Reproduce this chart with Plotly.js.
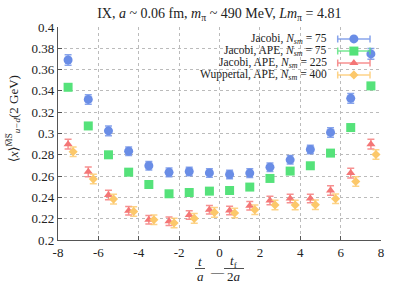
<!DOCTYPE html>
<html><head><meta charset="utf-8">
<script src="https://cdn.plot.ly/plotly-3.0.1.min.js"></script>
<style>html,body{margin:0;padding:0;background:#fff}#c{width:398px;height:283px}</style>
</head><body><div id="c"></div>
<script>
const xBase = [-7.5,-6.5,-5.5,-4.5,-3.5,-2.5,-1.5,-0.5,0.5,1.5,2.5,3.5,4.5,5.5,6.5,7.5];
const xShift = [-7.25,-6.25,-5.25,-4.25,-3.25,-2.25,-1.25,-0.25,0.75,1.75,2.75,3.75,4.75,5.75,6.75,7.75];

const jacobi75 = [0.369,0.332,0.3025,0.2834,0.2697,0.2635,0.2643,0.263,0.2615,0.2628,0.2684,0.2753,0.285,0.301,0.333,0.3747];
const jacobi75Err = [0.005,0.0045,0.0045,0.004,0.004,0.004,0.004,0.004,0.004,0.004,0.004,0.004,0.004,0.0045,0.0045,0.005];

const ape75 = [0.3434,0.3071,0.28,0.2637,0.2521,0.2434,0.2446,0.2459,0.2465,0.2497,0.2578,0.2647,0.2697,0.2816,0.3056,0.3447];
const ape75Err = [0.0025,0.0025,0.002,0.002,0.002,0.002,0.002,0.002,0.002,0.002,0.002,0.002,0.002,0.002,0.0025,0.0025];

const ape225 = [0.29,0.264,0.2422,0.2275,0.219,0.2175,0.2234,0.2284,0.2278,0.2322,0.2371,0.239,0.239,0.2465,0.2628,0.29];
const ape225Err = [0.0045,0.0045,0.0045,0.004,0.004,0.004,0.004,0.004,0.004,0.004,0.004,0.004,0.004,0.0045,0.0045,0.0045];

const wup400 = [0.2828,0.2572,0.2384,0.2268,0.219,0.216,0.2203,0.2259,0.2253,0.2284,0.2328,0.2328,0.2331,0.2387,0.255,0.2803];
const wup400Err = [0.0045,0.0045,0.0045,0.0045,0.0045,0.0045,0.0045,0.0045,0.0045,0.0045,0.0045,0.0045,0.0045,0.0045,0.0045,0.0045];

const seriesNames = [
  "Jacobi, <i>N</i><sub><i>sm</i></sub> = 75",
  "Jacobi, APE, <i>N</i><sub><i>sm</i></sub> = 75",
  "Jacobi, APE, <i>N</i><sub><i>sm</i></sub> = 225",
  "Wuppertal, APE, <i>N</i><sub><i>sm</i></sub> = 400"
];
const colors = ["#6a8de6","#55e27a","#f47676","#fcc86a"];
const errColors = ["rgba(106,141,230,0.8)","rgba(85,226,122,0.8)","rgba(244,118,118,0.8)","rgba(252,200,106,0.8)"];
const symbols = ["circle","square","triangle-up","diamond"];
const sizes = [9,9,8,7];

const xTicks = [-8,-6,-4,-2,0,2,4,6,8];
const yTicks = [0.2,0.22,0.24,0.26,0.28,0.3,0.32,0.34,0.36,0.38,0.4];
const yTickText = ["0.2","0.22","0.24","0.26","0.28","0.3","0.32","0.34","0.36","0.38","0.4"];

const xs = [xBase,xBase,xBase,xShift];
const ys = [jacobi75,ape75,ape225,wup400];
const es = [jacobi75Err,ape75Err,ape225Err,wup400Err];

const font = "Liberation Serif, DejaVu Serif, serif";
const traces = [];
for (let i=0;i<4;i++){
  traces.push({
    type:"scatter", mode:"markers", x:xs[i], y:ys[i],
    error_y:{type:"data", array:es[i], visible:true, color:errColors[i], thickness:1.5, width:3.5},
    marker:{symbol:symbols[i], size:sizes[i], color:colors[i]},
    showlegend:false, hoverinfo:"skip"
  });
}
// custom legend (symbol to the right of text, with horizontal error bars)
const legY = [0.944,0.887,0.831,0.775];
const annotations = [];
for (let i=0;i<4;i++){
  traces.push({
    type:"scatter", mode:"markers", x:[0.916], y:[legY[i]], xaxis:"x2", yaxis:"y2",
    error_x:{type:"constant", value:0.05, visible:true, color:errColors[i], thickness:1.5, width:3.5},
    marker:{symbol:symbols[i], size:sizes[i], color:colors[i]},
    showlegend:false, hoverinfo:"skip"
  });
  annotations.push({xref:"paper", yref:"paper", x:0.838, y:legY[i], xanchor:"right", yanchor:"middle",
    text:seriesNames[i], showarrow:false, font:{family:font, size:11.5, color:"#222"}});
}
// y-axis title
annotations.push({xref:"paper", yref:"paper", x:-0.14, y:0.57, textangle:-90, xanchor:"center", yanchor:"middle",
  text:"⟨<i>x</i>⟩<sup>M̅S̅</sup><sub><i>u−d</i></sub>(2 GeV)", showarrow:false, font:{family:font, size:13, color:"#222"}});
// x-axis title as fractions
const fx1 = (200-58)/323, fx2 = (217-58)/323, fx3 = (234-58)/323;
const yNum = -(261.5-240)/213, yDen = -(276-240)/213, yBar = -(268.5-240)/213, yMinus = -(271-240)/213;
function ann(x,y,t,s){ return {xref:"paper", yref:"paper", x:x, y:y, xanchor:"center", yanchor:"middle", text:t, showarrow:false, font:{family:font,size:s,color:"#222"}}; }
annotations.push(ann(fx1,yNum,"<i>t</i>",13));
annotations.push(ann(fx1,yDen,"<i>a</i>",13));
annotations.push(ann(fx2,yMinus,"—",13));
annotations.push(ann(fx3,yNum,"<i>t</i><sub>f</sub>",13));
annotations.push(ann(fx3,yDen,"2<i>a</i>",13));
const shapes = [
  {type:"line", xref:"paper", yref:"paper", x0:(195-58)/323, x1:(205-58)/323, y0:yBar, y1:yBar, line:{color:"#222", width:0.8}},
  {type:"line", xref:"paper", yref:"paper", x0:(224-58)/323, x1:(244-58)/323, y0:yBar, y1:yBar, line:{color:"#222", width:0.8}}
];

const layout = {
  width:398, height:283,
  margin:{l:58, r:17, t:27, b:43},
  paper_bgcolor:"#fff", plot_bgcolor:"#fff",
  font:{family:font, size:13, color:"#222"},
  title:{text:"IX, <i>a</i> ~ 0.06 fm, <i>m</i><sub>π</sub> ~ 490 MeV, <i>Lm</i><sub>π</sub> = 4.81",
    x:0.551, xanchor:"center", y:0.955, yanchor:"middle", font:{family:font, size:14, color:"#222"}},
  xaxis:{range:[-8,8], tickvals:xTicks, ticktext:xTicks.map(String), showgrid:true, gridcolor:"#bbb", griddash:"dot", gridwidth:1,
    zeroline:false, showline:true, linecolor:"#555", linewidth:1.2, ticks:"inside", ticklen:4, tickcolor:"#555",
    tickfont:{family:font, size:13}},
  yaxis:{range:[0.2,0.4], tickvals:yTicks, ticktext:yTickText, showgrid:true, gridcolor:"#bbb", griddash:"dot", gridwidth:1,
    zeroline:false, showline:true, linecolor:"#555", linewidth:1.2, ticks:"inside", ticklen:4, tickcolor:"#555",
    tickfont:{family:font, size:13}},
  xaxis2:{overlaying:"x", range:[0,1], visible:false, fixedrange:true},
  yaxis2:{overlaying:"y", range:[0,1], visible:false, fixedrange:true},
  annotations:annotations, shapes:shapes, showlegend:false
};
Plotly.newPlot("c", traces, layout, {staticPlot:true, displayModeBar:false});
</script></body></html>
